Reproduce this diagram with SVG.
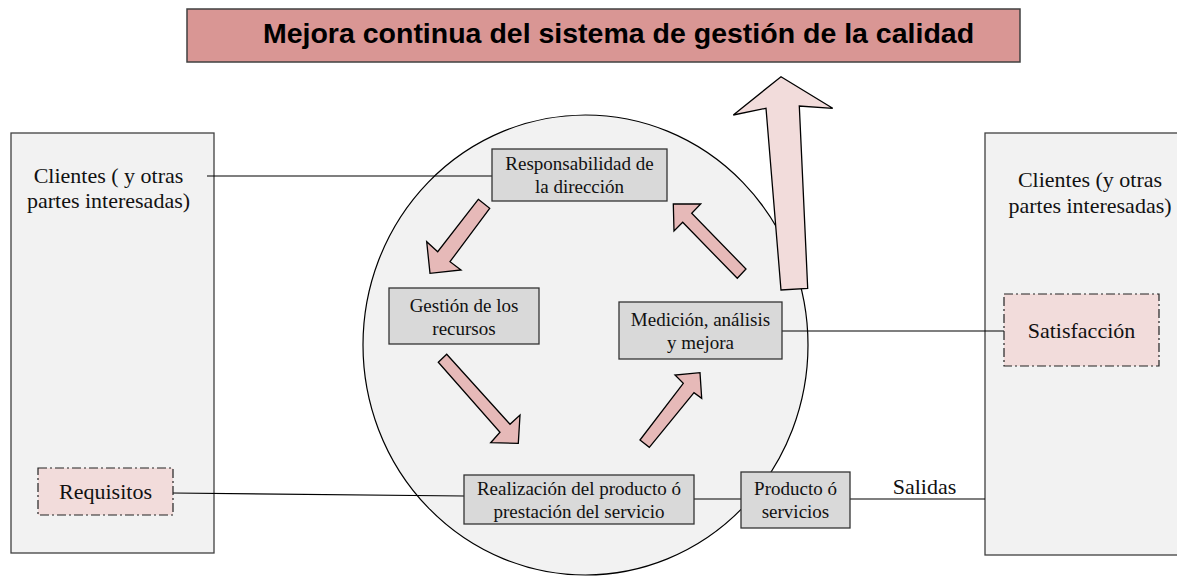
<svg xmlns="http://www.w3.org/2000/svg" width="1177" height="577" viewBox="0 0 1177 577">
<style>
.panel{fill:#f2f2f2;stroke:#404040;stroke-width:1.3}
.box{fill:#d9d9d9;stroke:#333;stroke-width:1.3}
.dash{fill:#f2dcdb;stroke:#222;stroke-width:1.2;stroke-dasharray:9 3 2 3}
.arr{fill:#e6b9b8;stroke:#000;stroke-width:1.3;stroke-linejoin:miter}
.big{fill:#f2dcdb;stroke:#000;stroke-width:1.3}
.ln{stroke:#000;stroke-width:1.2;fill:none}
.t{font-family:"Liberation Serif","Times New Roman",serif;font-size:19px;fill:#111;text-anchor:middle}
.tp{font-family:"Liberation Serif","Times New Roman",serif;font-size:22px;fill:#111;text-anchor:middle}
.title{font-family:"Liberation Sans",Arial,sans-serif;font-weight:bold;font-size:28.5px;fill:#000;text-anchor:middle}
</style>
<rect width="1177" height="577" fill="#fff"/>
<g id="title">
<rect x="187" y="9" width="833" height="53" fill="#d99694" stroke="#404040" stroke-width="1.5"/>
<text class="title" x="618.5" y="43">Mejora continua del sistema de gestión de la calidad</text>
</g>
<g id="panel-left">
<rect class="panel" x="11" y="133" width="203" height="420"/>
<text class="tp" x="108.5" y="183">Clientes ( y otras</text>
<text class="tp" x="108.5" y="208">partes interesadas)</text>
</g>
<g id="panel-right">
<rect class="panel" x="985" y="133" width="200" height="422"/>
<text class="tp" x="1090" y="187">Clientes (y otras</text>
<text class="tp" x="1090" y="213">partes interesadas)</text>
</g>
<g id="cycle">
<ellipse cx="585.5" cy="345" rx="222.5" ry="230" fill="#f2f2f2" stroke="#000" stroke-width="1.2"/>
</g>
<g id="connectors">
<line class="ln" x1="207" y1="176" x2="492" y2="176"/>
<line class="ln" x1="173" y1="493" x2="464" y2="496"/>
<line class="ln" x1="694" y1="499" x2="741" y2="499"/>
<line class="ln" x1="850" y1="499" x2="985" y2="499"/>
<line class="ln" x1="782" y1="331" x2="1004" y2="331"/>
<text class="tp" x="924.5" y="494">Salidas</text>
</g>
<g id="requisitos">
<rect class="dash" x="38" y="468" width="135" height="47"/>
<text class="tp" x="105.5" y="499">Requisitos</text>
</g>
<g id="satisfaccion">
<rect class="dash" x="1004" y="294" width="155" height="72"/>
<text class="tp" x="1081.5" y="338">Satisfacción</text>
</g>
<g id="responsabilidad">
<rect class="box" x="492" y="149" width="175" height="52"/>
<text class="t" x="579.5" y="170">Responsabilidad de</text>
<text class="t" x="579.5" y="193">la dirección</text>
</g>
<g id="gestion">
<rect class="box" x="389" y="288" width="150" height="56"/>
<text class="t" x="464" y="312">Gestión de los</text>
<text class="t" x="464" y="335">recursos</text>
</g>
<g id="medicion">
<rect class="box" x="619" y="302" width="163" height="57"/>
<text class="t" x="700.5" y="326">Medición, análisis</text>
<text class="t" x="700.5" y="349">y mejora</text>
</g>
<g id="realizacion">
<rect class="box" x="464" y="475" width="230" height="49"/>
<text class="t" x="579" y="495">Realización del producto ó</text>
<text class="t" x="579" y="518">prestación del servicio</text>
</g>
<g id="producto">
<rect class="box" x="741" y="472" width="109" height="56"/>
<text class="t" x="795.5" y="495">Producto ó</text>
<text class="t" x="795.5" y="518">servicios</text>
</g>
<g id="flow-arrows">
<polygon class="arr" points="478.3,199.3 489.7,208.3 450,261.7 461,270 430,273.3 426.7,241.7 437.7,251.7"/>
<polygon class="arr" points="673.3,204 700.7,204 691.7,213.3 746,269 737.3,278.3 682.7,222.3 674,231"/>
<polygon class="arr" points="438.3,362.3 446.7,354.3 510,424.3 520,415 518.3,443.3 490.7,442.7 500,432.3"/>
<polygon class="arr" points="640,440 649.3,447.3 694,392.7 701.7,398.3 700,372.7 675,375 683.3,383.3"/>
</g>
<g id="improvement-arrow">
<polygon class="big" points="781,76.7 832.7,108.3 799.3,106 807.7,288.3 781,290 766,108.3 733.3,115"/>
</g>
</svg>
